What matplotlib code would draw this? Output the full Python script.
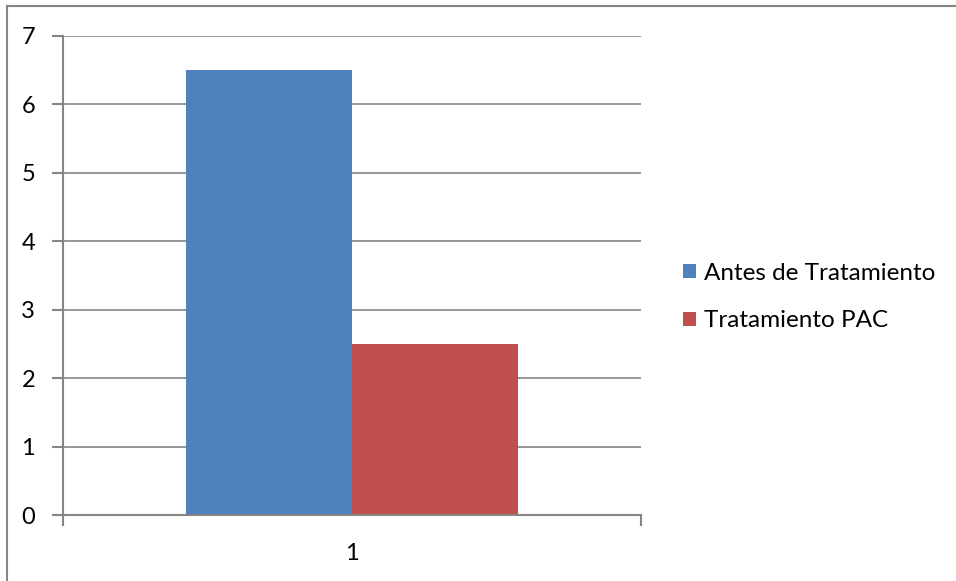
import matplotlib.pyplot as plt
from matplotlib.lines import Line2D

categories = ["1"]
series_names = ["Antes de Tratamiento", "Tratamiento PAC"]
antes = [6.5]
pac = [2.5]
colors = ["#4F81BD", "#C0504D"]

plt.rcParams['font.family'] = ['Lato', 'DejaVu Sans']

fig = plt.figure(figsize=(9.56, 5.81), dpi=100)
ax = fig.add_axes([63 / 956, 66 / 581, 578 / 956, 479 / 581])

grid_c = "#868686"
w = 0.2865
x = [0]
ax.bar([v - w / 2 for v in x], antes, width=w, color=colors[0], label=series_names[0], zorder=3)
ax.bar([v + w / 2 for v in x], pac, width=w, color=colors[1], label=series_names[1], zorder=3)

ax.set_xlim(-0.5, 0.5)
ax.set_ylim(0, 7)
ax.set_yticks(range(0, 8))
ax.set_xticks([-0.5, 0.5], minor=False)
ax.set_xticklabels(["", ""])
ax.set_xticks([0], minor=True)
ax.set_xticklabels(categories, minor=True)
ax.tick_params(axis="x", which="minor", length=0, pad=20, labelsize=17)
ax.tick_params(axis="x", which="major", length=8, width=1.5, color=grid_c, direction="out")
ax.tick_params(axis="y", length=8, width=1.5, color=grid_c, direction="out", pad=12, labelsize=17)
ax.yaxis.grid(True, color=grid_c, linewidth=1.2, zorder=0)
for s in ["top", "right"]:
    ax.spines[s].set_visible(False)
for s in ["left", "bottom"]:
    ax.spines[s].set_color(grid_c)
    ax.spines[s].set_linewidth(1.5)
    ax.spines[s].set_zorder(4)

ax.legend(loc="center left", bbox_to_anchor=(1.034, 0.455), frameon=False,
          fontsize=17.5, handlelength=0.55, handleheight=0.55, handletextpad=0.35,
          labelspacing=1.1)

# outer chart frame
fig.add_artist(Line2D([7 / 956, 1.0], [1 - 6 / 581, 1 - 6 / 581], color=grid_c, linewidth=1.5))
fig.add_artist(Line2D([7 / 956, 7 / 956], [0, 1 - 6 / 581], color=grid_c, linewidth=1.5))

fig.savefig("out.png", dpi=100)
